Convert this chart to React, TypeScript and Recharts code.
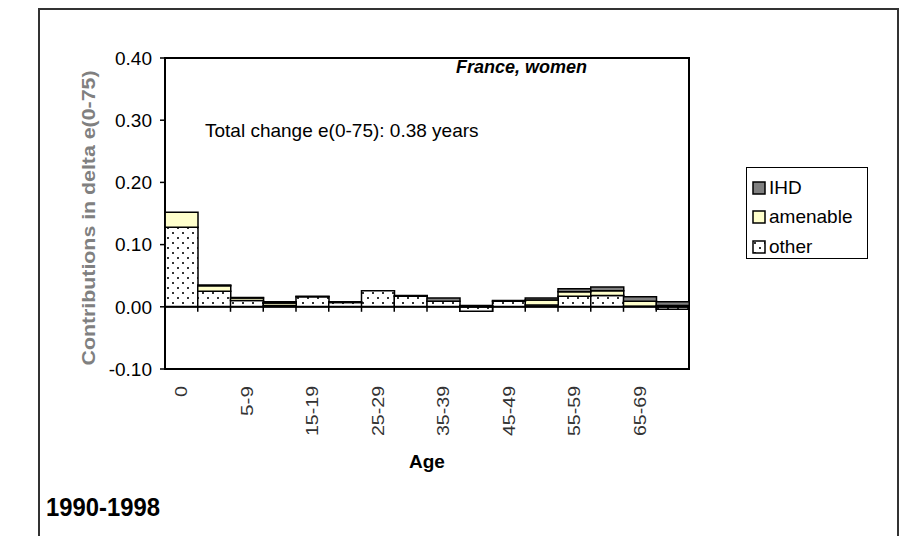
import React from 'react';
import { BarChart, Bar, XAxis, YAxis, ReferenceLine, ReferenceArea, Legend } from 'recharts';

const ageGroups = ['0', '1-4', '5-9', '10-14', '15-19', '20-24', '25-29', '30-34', '35-39', '40-44', '45-49', '50-54', '55-59', '60-64', '65-69', '70-74'];
const otherValues = [0.128, 0.025, 0.010, 0.002, 0.016, 0.007, 0.026, 0.017, 0.009, -0.007, 0.009, 0.003, 0.017, 0.018, 0.001, -0.004];
const amenableValues = [0.024, 0.009, 0.004, 0.004, 0.000, 0.000, 0.000, 0.000, 0.000, 0.001, 0.000, 0.008, 0.007, 0.008, 0.008, 0.002];
const ihdValues = [0.000, 0.001, 0.001, 0.002, 0.001, 0.001, 0.000, 0.001, 0.005, 0.001, 0.001, 0.003, 0.005, 0.006, 0.007, 0.006];
const yTicks = [-0.1, 0, 0.1, 0.2, 0.3, 0.4];
const shownAgeLabels = ['0', '5-9', '15-19', '25-29', '35-39', '45-49', '55-59', '65-69'];

const seriesNames = { ihd: 'IHD', amenable: 'amenable', other: 'other' };
const legendOrder = ['ihd', 'amenable', 'other'];

const data = ageGroups.map((age, i) => ({
  age,
  other: otherValues[i],
  amenable: amenableValues[i],
  ihd: ihdValues[i],
}));

const FONT = 'Arial, "Liberation Sans", Helvetica, sans-serif';

const AgeTick = (props: any) => {
  const { x, payload } = props;
  const label = payload.value as string;
  if (!shownAgeLabels.includes(label)) return null;
  const len = label.length === 1 ? 11 : label.length === 3 ? 30 : 50;
  const ty = 386;
  return (
    <text
      x={x}
      y={ty}
      transform={`rotate(-90, ${x}, ${ty})`}
      textAnchor="end"
      dy="0.36em"
      fontSize={16}
      fontFamily={FONT}
      fill="#333"
      textLength={len}
      lengthAdjust="spacingAndGlyphs"
    >
      {label}
    </text>
  );
};

const ZeroLine = (props: any) => {
  const { x1, y1, x2 } = props;
  const n = ageGroups.length;
  const step = (x2 - x1) / n;
  const ticks = Array.from({ length: n + 1 }, (_, i) => x1 + i * step);
  return (
    <g>
      <line x1={x1} y1={y1} x2={x2} y2={y1} stroke="#000" strokeWidth={2} />
      {ticks.map((tx, i) => (
        <line key={i} x1={tx} y1={y1} x2={tx} y2={y1 + 5} stroke="#000" strokeWidth={1.5} />
      ))}
    </g>
  );
};

const swatchFill: Record<string, string> = {
  ihd: '#808080',
  amenable: '#FFFFCC',
  other: 'url(#dots)',
};

const LegendBox = () => (
  <div
    style={{
      border: '1.5px solid #000',
      background: '#fff',
      width: 122,
      height: 92,
      boxSizing: 'border-box',
      paddingTop: 5,
      paddingLeft: 5,
      fontFamily: FONT,
      fontSize: 19,
      color: '#000',
    }}
  >
    {legendOrder.map((k) => (
      <div key={k} style={{ display: 'flex', alignItems: 'center', height: 29.5 }}>
        <svg width={14} height={14} style={{ marginRight: 3 }}>
          <rect x={1} y={1} width={12} height={12} fill={swatchFill[k]} stroke="#000" strokeWidth={1.5} />
        </svg>
        <span>{(seriesNames as any)[k]}</span>
      </div>
    ))}
  </div>
);

export default function App() {
  return (
    <div style={{ position: 'absolute', left: 0, top: 0, width: 900, height: 536, background: '#fff', overflow: 'hidden' }}>
      <svg width={0} height={0} style={{ position: 'absolute' }}>
        <defs>
          <pattern id="dots" patternUnits="userSpaceOnUse" width={10} height={10}>
            <rect x={0} y={0} width={10} height={10} fill="#fff" />
            <rect x={2} y={2} width={2} height={2} fill="#333" />
            <rect x={7} y={7} width={2} height={2} fill="#333" />
          </pattern>
        </defs>
      </svg>
      <div
        style={{
          position: 'absolute',
          left: 38,
          top: 8,
          width: 861,
          height: 540,
          border: '2px solid #333',
          boxSizing: 'border-box',
        }}
      />
      <div style={{ position: 'absolute', left: 0, top: 0 }}>
        <BarChart
          width={900}
          height={536}
          data={data}
          stackOffset="sign"
          barCategoryGap={0}
          margin={{ top: 58, right: 211, bottom: 0, left: 0 }}
        >
          <XAxis
            dataKey="age"
            interval={0}
            axisLine={false}
            tickLine={false}
            height={167}
            tick={<AgeTick />}
          />
          <YAxis
            type="number"
            domain={[-0.1, 0.4]}
            ticks={yTicks}
            width={165}
            tickSize={5}
            tickMargin={8}
            tickFormatter={(v: number) => v.toFixed(2)}
            axisLine={{ stroke: '#000', strokeWidth: 1.5 }}
            tickLine={{ stroke: '#000', strokeWidth: 1.5 }}
            tick={{ fill: '#000', fontSize: 19, fontFamily: FONT }}
            allowDataOverflow
          />
          <ReferenceArea y1={-0.1} y2={0.4} fill="none" stroke="#000" strokeWidth={2} ifOverflow="visible" />
          <Bar dataKey="other" name={seriesNames.other} stackId="s" fill="url(#dots)" stroke="#000" strokeWidth={1.5} isAnimationActive={false} />
          <Bar dataKey="amenable" name={seriesNames.amenable} stackId="s" fill="#FFFFCC" stroke="#000" strokeWidth={1.5} isAnimationActive={false} />
          <Bar dataKey="ihd" name={seriesNames.ihd} stackId="s" fill="#808080" stroke="#000" strokeWidth={1.5} isAnimationActive={false} />
          <ReferenceLine y={0} shape={<ZeroLine />} ifOverflow="visible" />
          <Legend
            layout="vertical"
            align="center"
            verticalAlign="middle"
            wrapperStyle={{ left: 746, top: 167, width: 122, height: 92 }}
            content={<LegendBox />}
          />
        </BarChart>
      </div>
      <svg width={900} height={536} style={{ position: 'absolute', left: 0, top: 0, pointerEvents: 'none' }}>
        <text
          x={88}
          y={218}
          transform="rotate(-90, 88, 218)"
          textAnchor="middle"
          dominantBaseline="central"
          fontSize={19}
          fontWeight="bold"
          fontFamily={FONT}
          fill="#808080"
          textLength={295}
          lengthAdjust="spacingAndGlyphs"
        >
          Contributions in delta e(0-75)
        </text>
        <text x={587} y={73} textAnchor="end" fontSize={18} fontWeight="bold" fontStyle="italic" fontFamily={FONT} fill="#000">
          France, women
        </text>
        <text x={205} y={137} fontSize={19} fontFamily={FONT} fill="#000">
          Total change e(0-75): 0.38 years
        </text>
        <text x={427} y={468} textAnchor="middle" fontSize={19} fontWeight="bold" fontFamily={FONT} fill="#000">
          Age
        </text>
        <text x={46} y={516} fontSize={25} fontWeight="bold" fontFamily={FONT} fill="#000" textLength={114} lengthAdjust="spacingAndGlyphs">
          1990-1998
        </text>
      </svg>
    </div>
  );
}
